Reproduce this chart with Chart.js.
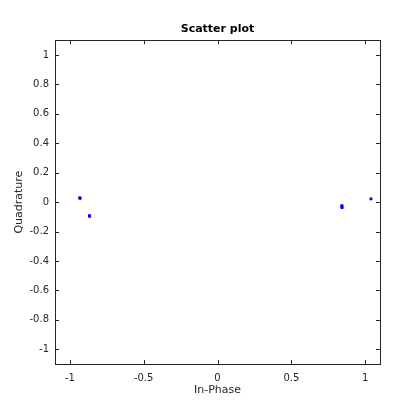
<!DOCTYPE html>
<html>
<head>
<meta charset="utf-8">
<script src="https://cdn.jsdelivr.net/npm/chart.js@4"></script>
<style>
  html, body { margin: 0; padding: 0; background: #fff; }
  #wrap { width: 420px; height: 420px; }
</style>
</head>
<body>
<div id="wrap"><canvas id="myChart"></canvas></div>
<script>
// values
const inPhase    = [-0.933, -0.930, -0.867, -0.866, 0.842, 0.842, 0.843, 1.039];
const quadrature = [ 0.029,  0.026, -0.092, -0.097, -0.031, -0.025, -0.037, 0.022];
const xTicks = [-1, -0.5, 0, 0.5, 1];
const yTicks = [-1, -0.8, -0.6, -0.4, -0.2, 0, 0.2, 0.4, 0.6, 0.8, 1];

const points = inPhase.map((x, i) => ({ x: x, y: quadrature[i] }));
const ink = '#262626';
const fmt = v => String(Math.round(v * 10) / 10);

// MATLAB style box with inward ticks on all four sides
const boxPlugin = {
  id: 'box',
  afterDraw(chart) {
    const { ctx, chartArea: a, scales } = chart;
    ctx.save();
    ctx.strokeStyle = ink;
    ctx.lineWidth = 1;
    ctx.beginPath();
    xTicks.forEach(v => {
      const px = Math.round(scales.x.getPixelForValue(v)) + 0.5;
      ctx.moveTo(px, a.bottom); ctx.lineTo(px, a.bottom - 4);
      ctx.moveTo(px, a.top); ctx.lineTo(px, a.top + 4);
    });
    yTicks.forEach(v => {
      const py = Math.round(scales.y.getPixelForValue(v)) + 0.5;
      ctx.moveTo(a.left, py); ctx.lineTo(a.left + 4, py);
      ctx.moveTo(a.right, py); ctx.lineTo(a.right - 4, py);
    });
    ctx.stroke();
    ctx.strokeRect(Math.round(a.left) + 0.5, Math.round(a.top) + 0.5,
                   Math.round(a.right - a.left), Math.round(a.bottom - a.top));
    ctx.restore();
  }
};

new Chart(document.getElementById('myChart'), {
  type: 'scatter',
  data: {
    datasets: [{
      data: points,
      pointStyle: 'rect',
      pointRadius: 2,
      borderWidth: 0,
      backgroundColor: 'rgb(0, 0, 255)'
    }]
  },
  plugins: [boxPlugin],
  options: {
    responsive: true,
    maintainAspectRatio: false,
    animation: false,
    layout: { padding: { left: 0, right: 40, top: 0, bottom: 0 } },
    scales: {
      x: {
        type: 'linear',
        min: -1.1,
        max: 1.1,
        afterFit: s => { s.height = 56; },
        afterBuildTicks: s => { s.ticks = xTicks.map(v => ({ value: v })); },
        grid: { display: false, drawTicks: false },
        border: { display: false },
        ticks: {
          padding: 8,
          color: ink,
          callback: fmt,
          font: { family: 'DejaVu Sans', size: 10 }
        },
        title: {
          display: true,
          text: 'In-Phase',
          color: ink,
          font: { family: 'DejaVu Sans', size: 11 },
          padding: { top: 0, bottom: 23 }
        }
      },
      y: {
        type: 'linear',
        min: -1.1,
        max: 1.1,
        afterFit: s => { s.width = 55; },
        afterBuildTicks: s => { s.ticks = yTicks.map(v => ({ value: v })); },
        grid: { display: false, drawTicks: false },
        border: { display: false },
        ticks: {
          padding: 6,
          color: ink,
          callback: fmt,
          font: { family: 'DejaVu Sans', size: 10 }
        },
        title: {
          display: true,
          text: 'Quadrature',
          color: ink,
          font: { family: 'DejaVu Sans', size: 11 },
          padding: { top: 13, bottom: 0 }
        }
      }
    },
    plugins: {
      legend: { display: false },
      tooltip: { enabled: false },
      title: {
        display: true,
        text: 'Scatter plot',
        fullSize: false,
        color: '#000',
        font: { family: 'DejaVu Sans', size: 11, weight: 'bold' },
        padding: { top: 23, bottom: 4 }
      }
    }
  }
});
</script>
</body>
</html>
